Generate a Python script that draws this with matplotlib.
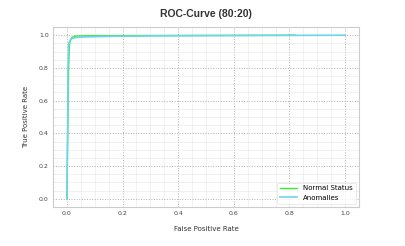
import matplotlib
matplotlib.use("Agg")
import matplotlib.pyplot as plt
from matplotlib.ticker import MultipleLocator

normal_fpr = [0.0, 0.002, 0.004, 0.006, 0.008, 0.010, 0.013, 0.018, 0.025, 0.035, 0.05, 0.10, 0.30, 0.60, 0.82]
normal_tpr = [0.0, 0.30, 0.50, 0.78, 0.90, 0.95, 0.97, 0.985, 0.992, 0.995, 0.996, 0.997, 0.998, 0.999, 1.0]
anom_fpr = [0.0, 0.002, 0.004, 0.006, 0.008, 0.010, 0.015, 0.02, 0.03, 0.05, 0.08, 0.15, 0.35, 0.70, 1.0]
anom_tpr = [0.0, 0.30, 0.80, 0.93, 0.955, 0.965, 0.975, 0.98, 0.985, 0.988, 0.990, 0.993, 0.996, 0.998, 1.0]

fig = plt.figure(figsize=(4.06, 2.46), dpi=100)
ax = fig.add_axes([53/406, 1 - 207/246, (359-53)/406, (207-27)/246])
ax.plot(normal_fpr, normal_tpr, color="#33ee33", lw=1.0, label="Normal Status")
ax.plot(anom_fpr, anom_tpr, color="#6fd3f0", lw=1.2, label="Anomalies")
ax.set_xlim(-0.05, 1.05)
ax.set_ylim(-0.05, 1.05)
ax.xaxis.set_major_locator(MultipleLocator(0.2))
ax.yaxis.set_major_locator(MultipleLocator(0.2))
ax.xaxis.set_minor_locator(MultipleLocator(0.05))
ax.yaxis.set_minor_locator(MultipleLocator(0.05))
ax.grid(which="major", color="#b0b0b0", ls=":", lw=0.7)
ax.grid(which="minor", color="#e6e6e6", ls="-", lw=0.4)
ax.tick_params(which="both", length=0, labelsize=4.5, labelcolor="#444444", pad=3)
for s in ax.spines.values():
    s.set_color("#cccccc")
    s.set_linewidth(0.8)
ax.set_title("ROC-Curve (80:20)", fontsize=7.5, fontweight="bold", color="#333333", pad=7,
             family="Liberation Sans")
ax.set_xlabel("False Positive Rate", fontsize=5, color="#333333", labelpad=7)
ax.set_ylabel("True Positive Rate", fontsize=5, color="#333333", labelpad=7)
leg = ax.legend(loc="lower right", fontsize=5, frameon=True, handlelength=2.5, borderpad=0.4)
leg.get_frame().set_edgecolor("#dddddd")
leg.get_frame().set_linewidth(0.5)
fig.savefig("out.png", dpi=100)
